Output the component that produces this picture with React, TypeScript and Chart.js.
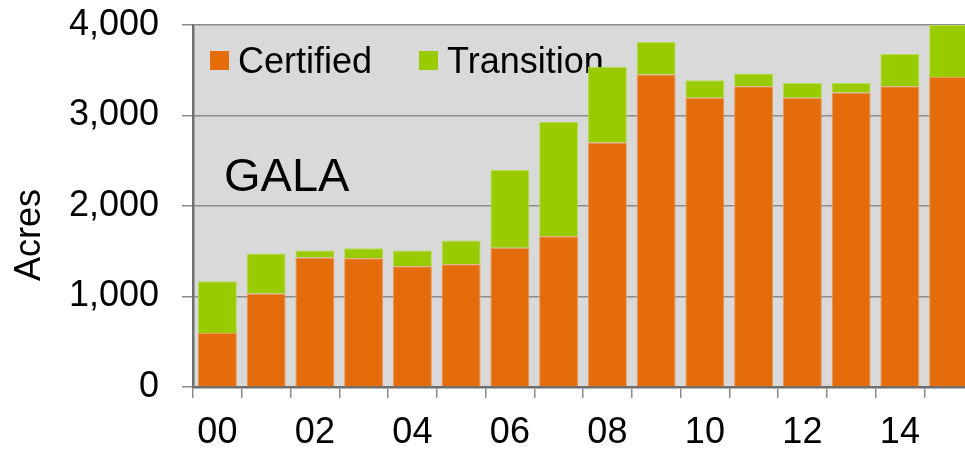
import React, { useEffect, useRef } from "react";
import { Chart, registerables } from "chart.js";

Chart.register(...registerables);

const years = ["00","01","02","03","04","05","06","07","08","09","10","11","12","13","14","15"];
const certified = [596, 1033, 1430, 1423, 1335, 1357, 1540, 1665, 2702, 3452, 3195, 3324, 3195, 3254, 3324, 3426];
const transition = [573, 441, 77, 110, 172, 261, 857, 1265, 838, 361, 195, 139, 165, 106, 356, 574];
const yTicks = [0, 1000, 2000, 3000, 4000];
const seriesNames = ["Certified", "Transition"];
const seriesColors = ["#E46C0A", "#99CC00"];
const seriesBorders = ["#EE9A5C", "#B8DD55"];
const annotation = "GALA";
const yTitle = "Acres";

const FONT = '"Liberation Sans", Arial, Helvetica, sans-serif';

const bgPlugin = {
  id: "plotBg",
  beforeDraw(chart: any) {
    const { ctx, chartArea } = chart;
    ctx.save();
    ctx.fillStyle = "#D9D9D9";
    ctx.fillRect(chartArea.left, chartArea.top, chartArea.right - chartArea.left, chartArea.bottom - chartArea.top);
    ctx.restore();
  },
};

const overlayPlugin = {
  id: "overlay",
  beforeDatasetsDraw(chart: any) {
    const { ctx } = chart;
    ctx.save();
    const ds = chart.data.datasets;
    const pos = [
      { bx: 210, tx: 238 },
      { bx: 419, tx: 447 },
    ];
    ctx.font = `36px ${FONT}`;
    ctx.textBaseline = "alphabetic";
    ctx.textAlign = "left";
    ds.forEach((d: any, i: number) => {
      ctx.fillStyle = d.backgroundColor;
      ctx.fillRect(pos[i].bx, 51, 19, 19);
      ctx.fillStyle = "#000";
      ctx.fillText(d.label, pos[i].tx, 73);
    });
    ctx.font = `47px ${FONT}`;
    ctx.fillStyle = "#000";
    ctx.fillText(annotation, 224, 191);
    ctx.restore();
  },
  afterDraw(chart: any) {
    const { ctx } = chart;
    ctx.save();
    ctx.font = `36px ${FONT}`;
    ctx.fillStyle = "#000";
    ctx.translate(40, 235);
    ctx.rotate(-Math.PI / 2);
    ctx.textAlign = "center";
    ctx.textBaseline = "alphabetic";
    ctx.fillText(yTitle, 0, 0);
    ctx.restore();
  },
};

export default function App() {
  const ref = useRef<HTMLCanvasElement>(null);
  useEffect(() => {
    if (!ref.current) return;
    const chart = new Chart(ref.current, {
      type: "bar",
      data: {
        labels: years,
        datasets: [
          {
            label: seriesNames[0],
            data: certified,
            backgroundColor: seriesColors[0],
            borderColor: seriesBorders[0],
            borderWidth: 1,
            barPercentage: 0.8,
            categoryPercentage: 1,
          },
          {
            label: seriesNames[1],
            data: transition,
            backgroundColor: seriesColors[1],
            borderColor: seriesBorders[1],
            borderWidth: 1,
            barPercentage: 0.8,
            categoryPercentage: 1,
          },
        ],
      },
      options: {
        responsive: false,
        animation: false,
        layout: { padding: { top: 25, left: 0, right: 0, bottom: 0 } },
        plugins: {
          legend: { display: false },
          tooltip: { enabled: false },
        },
        scales: {
          x: {
            stacked: true,
            afterFit: (s: any) => { s.height = 62; s.paddingLeft = 0; s.paddingRight = 0; },
            grid: {
              drawOnChartArea: false,
              drawTicks: true,
              tickLength: 11,
              color: "#8C8C8C",
              lineWidth: 1.5,
              offset: true,
            },
            border: { color: "#6E6E6E", width: 2.5 },
            ticks: {
              autoSkip: false,
              maxRotation: 0,
              padding: 13,
              color: "#000",
              font: { size: 36, family: FONT },
              callback: (_v: any, i: number) => (i % 2 === 0 ? years[i] : ""),
            },
          },
          y: {
            stacked: true,
            min: yTicks[0],
            max: yTicks[yTicks.length - 1],
            afterFit: (s: any) => { s.width = 193; s.paddingTop = 0; s.paddingBottom = 0; },
            afterBuildTicks: (s: any) => { s.ticks = yTicks.map((v) => ({ value: v })); },
            grid: {
              color: "#8C8C8C",
              lineWidth: 1.5,
              tickLength: 11,
            },
            border: { color: "#6E6E6E", width: 2.5 },
            ticks: {
              padding: 23,
              color: "#000",
              font: { size: 36, family: FONT },
              callback: (v: any) => Number(v).toLocaleString("en-US"),
            },
          },
        },
      },
      plugins: [bgPlugin, overlayPlugin],
    });
    return () => chart.destroy();
  }, []);
  return (
    <div style={{ position: "fixed", left: 0, top: 0, width: 965, height: 449, overflow: "hidden", background: "#fff" }}>
      <canvas ref={ref} width={973} height={449} style={{ display: "block" }} />
    </div>
  );
}
